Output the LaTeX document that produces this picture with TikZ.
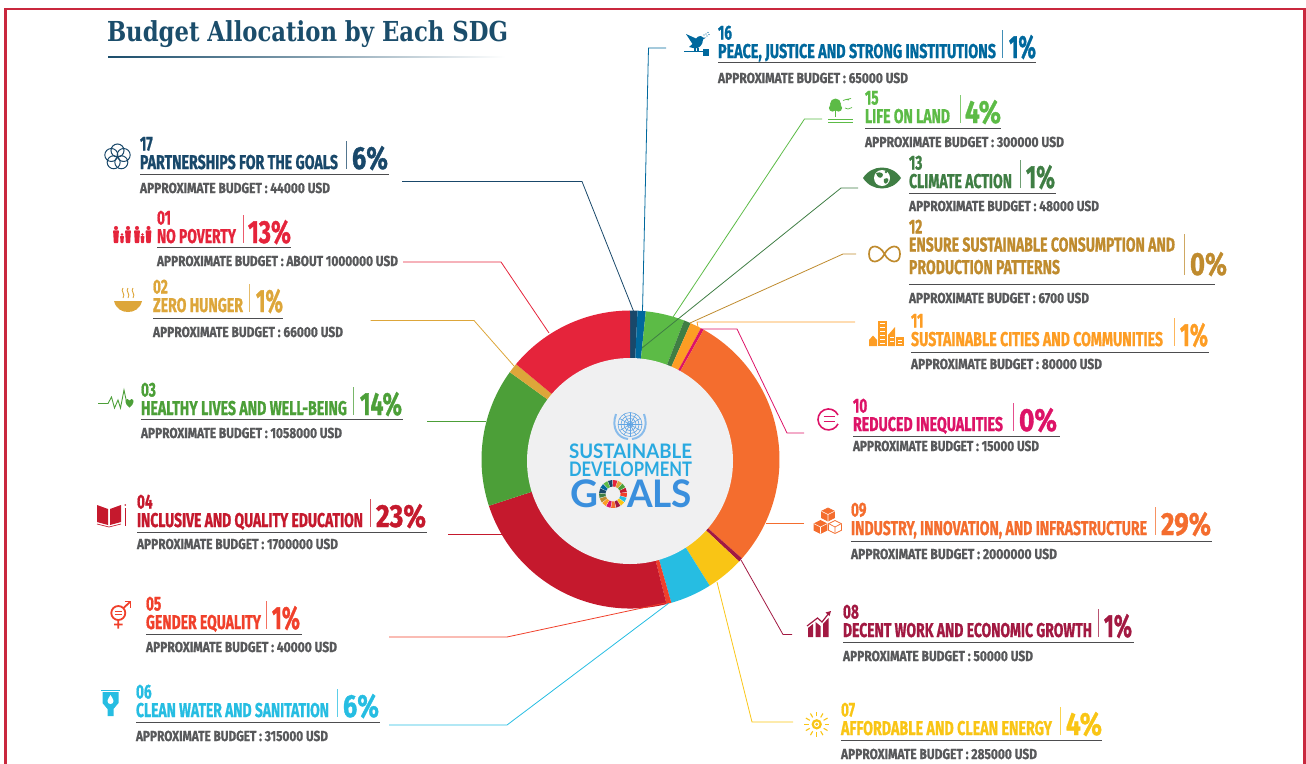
\documentclass[tikz,border=0pt]{standalone}
\usepackage{fontspec}
\setmainfont{Fira Sans}[BoldFeatures={FakeBold=1.2}]
\newfontfamily\titlefont{DejaVu Serif}
\newfontfamily\logofont{Lato}
\usetikzlibrary{calc}
\definecolor{c17}{HTML}{19486A}\definecolor{c01}{HTML}{E5243B}\definecolor{c02}{HTML}{DDA63A}
\definecolor{c03}{HTML}{4C9F38}\definecolor{c04}{HTML}{C5192D}\definecolor{c05}{HTML}{F0402B}
\definecolor{c06}{HTML}{26BDE2}\definecolor{c07}{HTML}{F9C515}\definecolor{c08}{HTML}{A21942}
\definecolor{c09}{HTML}{F46D2E}\definecolor{c10}{HTML}{DD1367}\definecolor{c11}{HTML}{FD9D24}
\definecolor{c12}{HTML}{BF8B2E}\definecolor{c13}{HTML}{3F7E44}\definecolor{c15}{HTML}{5CBB46}
\definecolor{c16}{HTML}{00689D}\definecolor{budgetgrey}{HTML}{58595B}\definecolor{rulegrey}{HTML}{4D4D4F}
\definecolor{framered}{HTML}{C9283E}\definecolor{titleblue}{HTML}{1B4D6B}\definecolor{hubgrey}{HTML}{F0F0F1}
\definecolor{logocyan}{HTML}{29A9E0}\definecolor{logoblue}{HTML}{3A8FDD}
\tikzset{
 lbl/.style={inner sep=0pt,outer sep=0pt,anchor=base west},
 conn/.style={line width=0.8pt},
 hairbar/.style={line width=0.7pt},
 ruleline/.style={draw=rulegrey,line width=0.9pt},
 iconline/.style={line width=1pt},
}
\newcommand\fitx[2]{\resizebox{#1pt}{\height}{#2}}
\newcommand\numfont{\fontsize{20}{20}\selectfont\bfseries}
\newcommand\pctfont{\fontsize{32}{32}\selectfont\bfseries}
\newcommand\budfont{\fontsize{14.5}{14.5}\selectfont\bfseries}
% \sdg{id}{colour}{number}{title}{pct}{budget}{underline y}{x,titleEnd,yb,bar,pctStart,pctEnd,ulEnd,budEnd,budBase}
\newcommand\sdg[8]{\sdgparse{#1}{#2}{#3}{#4}{#5}{#6}{#7}#8\relax}
\def\sdgparse#1#2#3#4#5#6#7#8,#9\relax{%
 \def\sdgid{#1}\def\sdgcol{#2}\def\sdgnum{#3}\def\sdgtit{#4}\def\sdgpct{#5}\def\sdgbud{#6}\def\sdguly{#7}\def\sdgx{#8}%
 \sdgrest#9\relax}
\def\sdgrest#1,#2,#3,#4,#5,#6,#7,#8\relax{%
 \pgfmathsetmacro\wt{#1-\sdgx}\pgfmathsetmacro\wp{#5-#4}\pgfmathsetmacro\wb{#7-\sdgx}%
 \node[lbl,text=\sdgcol] (n\sdgid) at (\sdgx,#2-18.5) {\numfont\scalebox{0.68}[1]{\sdgnum}};
 \node[lbl,text=\sdgcol] (t\sdgid) at (\sdgx,#2) {\numfont\fitx{\wt}{\sdgtit}};
 \draw[hairbar,\sdgcol!75] (#3,#2-28) -- (#3,#2);
 \node[lbl,text=\sdgcol] (p\sdgid) at (#4,#2) {\pctfont\fitx{\wp}{\sdgpct}};
 \draw[ruleline] (\sdgx,\sdguly) -- (#6,\sdguly);
 \node[lbl,text=budgetgrey] (b\sdgid) at (\sdgx,#8) {\budfont\fitx{\wb}{\sdgbud}};
}
\newcommand\seg[3]{%
 \pgfmathsetmacro\aa{#2-90}\pgfmathsetmacro\ab{#3-90}%
 \fill[#1] ($(C)+(\aa:149)$) arc[start angle=\aa,end angle=\ab,radius=149] -- ($(C)+(\ab:98)$) arc[start angle=\ab,end angle=\aa,radius=98] -- cycle;
}
\newcommand\ringseg[3]{%
 \pgfmathsetmacro\aa{#2-90}\pgfmathsetmacro\ab{#3-90}%
 \fill[#1] ($(R)+(\aa:14)$) arc[start angle=\aa,end angle=\ab,radius=14] -- ($(R)+(\ab:7.5)$) arc[start angle=\ab,end angle=\aa,radius=7.5] -- cycle;
}
\newcommand\person[4]{% x, head y, foot y, half width
 \fill (#1,#2) circle[radius=#4*0.7];
 \fill[rounded corners=0.5pt] (#1-#4,#2+#4*0.85) -- (#1+#4,#2+#4*0.85) -- (#1+#4*0.75,#3) -- (#1-#4*0.75,#3) -- cycle;
}
\newcommand\cube[4]{% cx cy size fill
 \filldraw[draw=c09,line width=0.8pt,fill=#4] (#1,#2-#3) -- (#1+#3,#2-#3*0.5) -- (#1+#3,#2+#3*0.5) -- (#1,#2+#3) -- (#1-#3,#2+#3*0.5) -- (#1-#3,#2-#3*0.5) -- cycle;
 \draw[white,line width=0.6pt] (#1-#3,#2-#3*0.5) -- (#1,#2) -- (#1+#3,#2-#3*0.5) (#1,#2) -- (#1,#2+#3);
}
\begin{document}
\begin{tikzpicture}[x=1pt,y=-1pt]
\useasboundingbox (0,0) rectangle (1306,763);
% frame
\draw[framered,line width=2.6pt] (5.3,770) -- (5.3,9) -- (1304.6,9) -- (1304.6,770);
% title
\node[lbl,text=titleblue] (heading) at (107,41.8) {\fontsize{27.5}{27.5}\selectfont\titlefont\bfseries\fitx{401}{Budget Allocation by Each SDG}};
\shade[left color=titleblue,right color=white,middle color=titleblue!55] (108,56.8) rectangle (505,57.8);
% donut
\coordinate (C) at (630.5,459.5);
\seg{c17}{-0.3}{2.7}\seg{c16}{2.7}{5.9}\seg{c15}{5.9}{21.1}\seg{c13}{21.1}{23.8}
\seg{c11}{23.8}{28.2}\seg{c10}{28.2}{29.4}\seg{c09}{29.4}{131.6}\seg{c08}{131.6}{133.2}
\seg{c07}{133.2}{147.9}\seg{c06}{147.9}{164.1}\seg{c05}{164.1}{166}\seg{c04}{166}{251.9}
\seg{c03}{251.9}{305.9}\seg{c02}{305.9}{309.8}\seg{c01}{309.8}{359.8}
% connector ends
\coordinate (e17a) at (402,181.5);\coordinate (e17b) at (582,181.5);\coordinate (e17c) at (633.5,311);
\coordinate (e16a) at (666,48);\coordinate (e16b) at (648.5,48);\coordinate (e16c) at (642.5,311);
\coordinate (e15a) at (822,119);\coordinate (e15b) at (804.5,119);\coordinate (e15c) at (673,317);
\coordinate (e13a) at (858,188);\coordinate (e13b) at (841,188);\coordinate (e13c) at (642,348);
\coordinate (e12a) at (856,254);\coordinate (e12b) at (843,254);\coordinate (e12c) at (690,323);
\coordinate (e11a) at (855,322);\coordinate (e11b) at (697,322);\coordinate (e11c) at (698,327);
\coordinate (e10a) at (804,433);\coordinate (e10b) at (787,433);\coordinate (e10c) at (737,329);\coordinate (e10d) at (702,329);\coordinate (e10e) at (679,370);
\coordinate (e09a) at (804,523);\coordinate (e09b) at (766,523);
\coordinate (e08a) at (792,634.5);\coordinate (e08b) at (783,634.5);\coordinate (e08c) at (741,560);
\coordinate (e07a) at (793,722);\coordinate (e07b) at (752,722);\coordinate (e07c) at (717,582);
\coordinate (e06a) at (389,725);\coordinate (e06b) at (507,725);\coordinate (e06c) at (669,603);
\coordinate (e05a) at (389,637);\coordinate (e05b) at (507,637);\coordinate (e05c) at (670,602);
\coordinate (e04a) at (448,534);\coordinate (e04b) at (502,534);
\coordinate (e03a) at (427,421.5);\coordinate (e03b) at (486,421.5);
\coordinate (e02a) at (370.5,320.5);\coordinate (e02b) at (474,320.5);\coordinate (e02c) at (514,366);
\coordinate (e01a) at (403,262);\coordinate (e01b) at (501,262);\coordinate (e01c) at (549,333);
\draw[conn,c17] (e17a) -- (e17b) -- (e17c);
\draw[conn,c16] (e16a) -- (e16b) -- (e16c);
\draw[conn,c15] (e15a) -- (e15b) -- (e15c);
\draw[conn,c13] (e13a) -- (e13b) -- (e13c);
\draw[conn,c12] (e12a) -- (e12b) -- (e12c);
\draw[conn,c11] (e11a) -- (e11b) -- (e11c);
\draw[conn,c10] (e10a) -- (e10b) -- (e10c) -- (e10d) -- (e10e);
\draw[conn,c09] (e09a) -- (e09b);
\draw[conn,c08] (e08a) -- (e08b) -- (e08c);
\draw[conn,c07] (e07a) -- (e07b) -- (e07c);
\draw[conn,c06] (e06a) -- (e06b) -- (e06c);
\draw[conn,c05] (e05a) -- (e05b) -- (e05c);
\draw[conn,c04] (e04a) -- (e04b);
\draw[conn,c03] (e03a) -- (e03b);
\draw[conn,c02] (e02a) -- (e02b) -- (e02c);
\draw[conn,c01] (e01a) -- (e01b) -- (e01c);
% hub
\fill[hubgrey] (630,461) circle[radius=103];
% UN emblem
\begin{scope}[logoblue!80,line width=0.6pt]
\foreach \r in {3,6,9,12}{\draw (630,424.5) circle[radius=\r];}
\foreach \a in {0,30,...,150}{\draw (630,424.5)++(\a:12) -- ++(\a+180:24);}
\draw[line width=2pt,logoblue!60] (616,414) .. controls (611,428) and (618,438) .. (628,439);
\draw[line width=2pt,logoblue!60] (644,414) .. controls (649,428) and (642,438) .. (632,439);
\end{scope}
% logo text
\node[lbl,text=logocyan] (logoa) at (569,458.5) {\fontsize{20}{20}\selectfont\logofont\bfseries\fitx{123}{SUSTAINABLE}};
\node[lbl,text=logocyan] (logob) at (569,476) {\fontsize{20}{20}\selectfont\logofont\bfseries\fitx{123}{DEVELOPMENT}};
\node[lbl,text=logoblue] (logoc) at (570,507.5) {\fontsize{38}{38}\selectfont\logofont\bfseries\fitx{28}{G}};
\node[lbl,text=logoblue] (logod) at (627,507.5) {\fontsize{38}{38}\selectfont\logofont\bfseries\fitx{65}{ALS}};
\coordinate (R) at (613,494);
\foreach \i/\c in {0/c01,1/c02,2/c03,3/c04,4/c05,5/c06,6/c07,7/c08,8/c09,9/c10,10/c11,11/c12,12/c13,13/c17,14/c16,15/c15,16/c17}{
 \pgfmathsetmacro\sa{\i*360/17}\pgfmathsetmacro\sb{\sa+360/17-3}
 \ringseg{\c}{\sa}{\sb}
}
% entries
\sdg{17}{c17}{17}{PARTNERSHIPS FOR THE GOALS}{6\%}{APPROXIMATE BUDGET : 44000 USD}{174}{140,338,169,346,352,388,389,330,193}
\sdg{01}{c01}{01}{NO POVERTY}{13\%}{APPROXIMATE BUDGET : ABOUT 1000000 USD}{247}{157,236,243,243,248,291,291,398,266}
\sdg{02}{c02}{02}{ZERO HUNGER}{1\%}{APPROXIMATE BUDGET : 66000 USD}{318}{153,243,312,249,256,283,283,343,337}
\sdg{03}{c03}{03}{HEALTHY LIVES AND WELL-BEING}{14\%}{APPROXIMATE BUDGET : 1058000 USD}{419}{141,347,415,353,360,402,403,342,438}
\sdg{04}{c04}{04}{INCLUSIVE AND QUALITY EDUCATION}{23\%}{APPROXIMATE BUDGET : 1700000 USD}{532}{137,363,527,370,376,426,427,338,549}
\sdg{05}{c05}{05}{GENDER EQUALITY}{1\%}{APPROXIMATE BUDGET : 40000 USD}{634}{146,261,629,266,272,300,302,337,652}
\sdg{06}{c06}{06}{CLEAN WATER AND SANITATION}{6\%}{APPROXIMATE BUDGET : 315000 USD}{722}{136,329,717,337,343,379,380,328,741}
\sdg{16}{c16}{16}{PEACE, JUSTICE AND STRONG INSTITUTIONS}{1\%}{APPROXIMATE BUDGET : 65000 USD}{62}{718,996,58,1002,1009,1036,1036,908,83}
\sdg{15}{c15}{15}{LIFE ON LAND}{4\%}{APPROXIMATE BUDGET : 300000 USD}{128}{865,950,123,960,965,1001,1001,1064,147}
\sdg{13}{c13}{13}{CLIMATE ACTION}{1\%}{APPROXIMATE BUDGET : 48000 USD}{193}{909,1012,188,1020,1026,1055,1056,1099,211}
\sdg{11}{c11}{11}{SUSTAINABLE CITIES AND COMMUNITIES}{1\%}{APPROXIMATE BUDGET : 80000 USD}{352}{911,1163,346,1174,1180,1208,1209,1102,369}
\sdg{10}{c10}{10}{REDUCED INEQUALITIES}{0\%}{APPROXIMATE BUDGET : 15000 USD}{436}{853,1003,431,1013,1019,1057,1060,1039,451}
\sdg{09}{c09}{09}{INDUSTRY, INNOVATION, AND INFRASTRUCTURE}{29\%}{APPROXIMATE BUDGET : 2000000 USD}{541}{851,1147,535,1155,1161,1211,1212,1057,559}
\sdg{08}{c08}{08}{DECENT WORK AND ECONOMIC GROWTH}{1\%}{APPROXIMATE BUDGET : 50000 USD}{642}{843,1092,637,1098,1104,1132,1134,1033,661}
\sdg{07}{c07}{07}{AFFORDABLE AND CLEAN ENERGY}{4\%}{APPROXIMATE BUDGET : 285000 USD}{740}{841,1052,735,1060,1066,1102,1102,1037,759}
% entry 12 (two-line title)
\node[lbl,text=c12] (n12) at (909,233.5) {\numfont\scalebox{0.68}[1]{12}};
\node[lbl,text=c12] (t12) at (909,251.5) {\numfont\fitx{266}{ENSURE SUSTAINABLE CONSUMPTION AND}};
\node[lbl,text=c12] (u12) at (909,274) {\numfont\fitx{151}{PRODUCTION PATTERNS}};
\draw[hairbar,c12!75] (1184,234) -- (1184,275);
\node[lbl,text=c12] (p12) at (1190,275) {\pctfont\fitx{37}{0\%}};
\draw[ruleline] (909,284) -- (1215,284);
\node[lbl,text=budgetgrey] (b12) at (909,303) {\budfont\fitx{180}{APPROXIMATE BUDGET : 6700 USD}};
% icon 17
\foreach \a in {-90,-18,54,126,198}{\draw[c17,iconline] (117.5,157)++(\a:6.5) circle[radius=6.5];}
% icon 01
\begin{scope}[c01,fill=c01]
\person{116}{228}{243}{2.9}\person{128}{228}{243}{2.9}\person{137}{228}{243}{2.9}\person{148.5}{228}{243}{2.9}
\person{122}{234.5}{243}{1.9}\person{142.5}{234.5}{243}{1.9}
\end{scope}
% icon 02
\fill[c02] (114,301) -- (142,301) .. controls (140,309) and (134,312) .. (128,312) .. controls (122,312) and (116,309) .. (114,301) -- cycle;
\foreach \x in {123,128,133}{\draw[c02,line width=0.9pt] (\x,288) .. controls (\x-3,291) and (\x+3,294) .. (\x,298);}
% icon 03
\draw[c03,line width=0.9pt] (98,403.5) -- (108,403.5) -- (111.5,397) -- (114.5,408) -- (118,400) -- (120.5,408) -- (124,390) -- (127,404);
\fill[c03] (129.5,407.5) .. controls (124.5,404) and (124.5,399) .. (127.5,399) .. controls (128.5,399) and (129.2,399.6) .. (129.5,400.5) .. controls (129.8,399.6) and (130.5,399) .. (131.5,399) .. controls (134.5,399) and (134.5,404) .. (129.5,407.5) -- cycle;
% icon 04
\fill[c04] (97,505) -- (108,509) -- (108,525) -- (97,522) -- cycle;
\fill[c04] (121,505) -- (110,509) -- (110,525) -- (121,522) -- cycle;
\draw[c04,line width=0.7pt] (97,524) -- (109,527) -- (121,524);
\fill[c04] (124.5,508) rectangle (126,526);\fill[c04] (125.2,505) circle[radius=0.9];
% icon 05
\draw[c05,line width=1.8pt] (118.3,613) circle[radius=7];
\draw[c05,line width=1.8pt] (118.3,620) -- (118.3,628.5) (114,624.5) -- (122.5,624.5) (123.5,608) -- (130,602);
\draw[c05,line width=1.5pt] (124.5,601.5) -- (130.5,601.5) -- (130.5,607.5);
\draw[c05,line width=1.2pt] (114.5,611.5) -- (122,611.5) (114.5,614.5) -- (122,614.5);
% icon 06
\draw[c06,line width=0.9pt] (101,690.5) -- (120,690.5);
\fill[c06] (102.5,692) -- (118.5,692) -- (118.5,703) -- (113.5,709) -- (113.5,716) -- (107.5,716) -- (107.5,709) -- (102.5,703) -- cycle;
\fill[white] (110.5,695) .. controls (108,699) and (107.5,700) .. (107.5,701) .. controls (107.5,705) and (113.5,705) .. (113.5,701) .. controls (113.5,700) and (113,699) .. (110.5,695) -- cycle;
% icon 07
\draw[c07,line width=2.2pt] (816.7,724.3) circle[radius=4];
\fill[c07] (816.7,724.3) circle[radius=1.6];
\foreach \a in {0,30,...,330}{\draw[c07,line width=1.1pt] (816.7,724.3)++(\a:8) -- ++(\a:4.5);}
% icon 08
\fill[c08] (808,628) -- (813,624) -- (813,637) -- (808,637) -- cycle;
\fill[c08] (815.5,622) -- (820.5,626) -- (820.5,637) -- (815.5,637) -- cycle;
\fill[c08] (823,624) -- (828.5,618) -- (828.5,637) -- (823,637) -- cycle;
\draw[c08,line width=1.2pt] (807,626) -- (817.5,618) -- (822,622) -- (829,613);
\fill[c08] (831,611) -- (825.5,612.5) -- (829.5,616) -- cycle;
% icon 09
\cube{828}{514.5}{6.5}{c09}\cube{820.5}{527}{6.5}{c09}\cube{835}{527}{6.5}{white}
\draw[c09,line width=0.7pt] (828.5,523.5) -- (835,527) -- (841.5,523.5) (835,527) -- (835,533.5);
% icon 10
\draw[c10,line width=1.6pt] (838,415) arc[start angle=-25,end angle=-335,radius=10.5];
\draw[c10,line width=1.6pt] (823.5,416.5) -- (835,416.5) (823.5,421.5) -- (835,421.5);
% icon 11
\begin{scope}[c11]
\fill (869,346) -- (869,340) -- (873,335.5) -- (877,340) -- (877,346) -- cycle;
\fill (878,320.5) rectangle (886.5,346);
\fill (888,346) -- (888,335) -- (895,327) -- (895,346) -- cycle;
\fill (896,337) rectangle (904,346);
\foreach \y in {323,327,331,335,339,343}{\fill[white] (880,\y) rectangle (884.5,\y+1.4);}
\foreach \y in {339.5,342.5}{\fill[white] (898,\y) rectangle (902,\y+1);}
\foreach \y in {337,341}{\fill[white] (889.5,\y) rectangle (893.5,\y+0.8);}
\end{scope}
% icon 12
\draw[c12,line width=1.7pt] (884.5,254) .. controls (880,245) and (869,243) .. (869,254) .. controls (869,265) and (880,263) .. (884.5,254) .. controls (889,245) and (900,243) .. (900,254) .. controls (900,265) and (889,263) .. (884.5,254) -- cycle;
% icon 13
\fill[c13] (863,178) .. controls (872,164) and (892,164) .. (901,178) .. controls (892,192) and (872,192) .. (863,178) -- cycle;
\fill[white] (882,178) circle[radius=8];
\fill[c13] (876,173) .. controls (881,171) and (885,174) .. (882,177) .. controls (880,179) and (877,177) .. (876,173) -- cycle;
\fill[c13] (884,179) .. controls (888,177) and (890,179) .. (887,183) .. controls (885,185) and (883,182) .. (884,179) -- cycle;
\fill[c13] (886,172) circle[radius=1.4];
% icon 15
\fill[c15] (835.5,104) circle[radius=5.5];\fill[c15] (832.5,108) circle[radius=3.6];\fill[c15] (838.5,108) circle[radius=3.6];
\draw[c15,line width=1.1pt] (835.5,108) -- (835.5,117);
\fill[c15] (828,118.5) rectangle (853,120);\fill[c15] (828,121.5) rectangle (853,123);
\draw[c15,line width=0.7pt] (843,100.5) -- (846,99.5) -- (849,100) (846,99.5) -- (851,98.5);
\draw[c15,line width=0.7pt] (845,108) -- (848,109) -- (852,107.5);
% icon 16
\fill[c16] (686,34) -- (696,38.5) .. controls (698,35.5) and (702,35.5) .. (703,37.5) -- (706,37.5) -- (703,39.5) .. controls (703,45) and (699,48.5) .. (695,48.5) -- (689,47) -- (692.5,44) -- cycle;
\draw[c16,line width=1.1pt] (695,48) -- (695,51) (698,48) -- (698,51);
\draw[c16,line width=1.3pt] (684,51.5) -- (704,51.5);
\fill[c16] (702.5,48.5) rectangle (708.5,55.5);
\foreach \p in {(706,34),(708,32.5),(707,36),(704,35),(709,34.5)}{\fill[c16] \p circle[radius=0.6];}
\end{tikzpicture}
\end{document}
